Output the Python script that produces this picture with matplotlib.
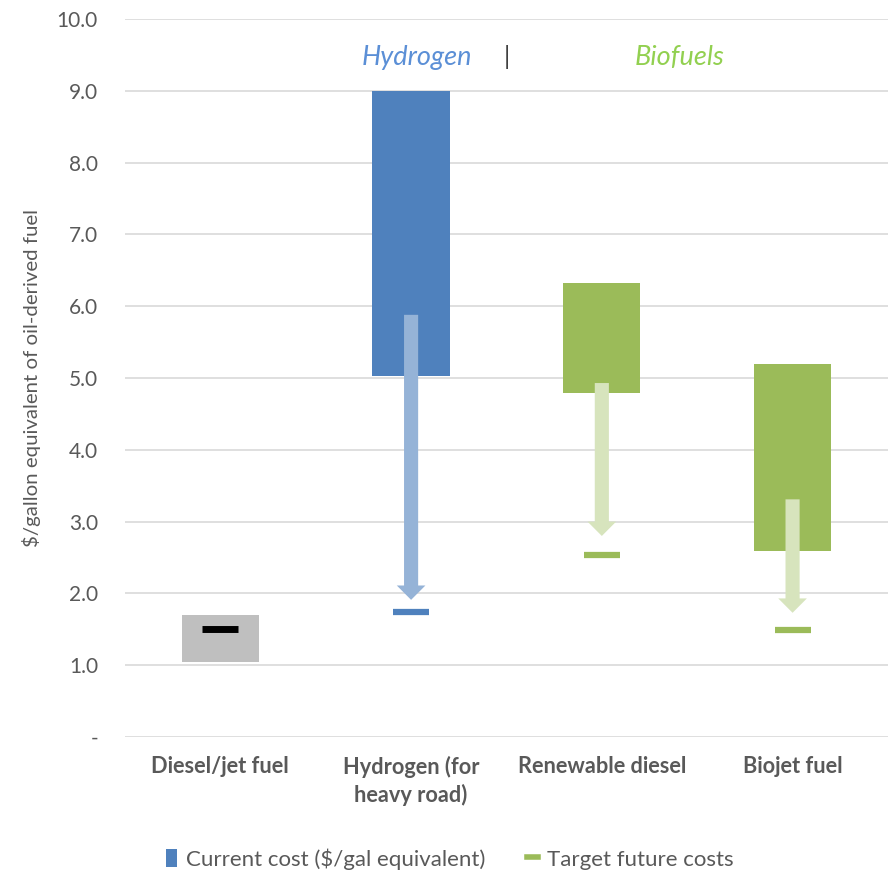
import matplotlib
matplotlib.use("Agg")
import matplotlib.pyplot as plt
from matplotlib.patches import Patch
from matplotlib.lines import Line2D

plt.rcParams['font.family'] = ['Lato', 'DejaVu Sans']

# cost ranges ($/gal equivalent) and target future costs
categories = ["Diesel/jet fuel", "Hydrogen (for\nheavy road)", "Renewable diesel", "Biojet fuel"]
cost_low = [1.04, 5.03, 4.79, 2.59]
cost_high = [1.70, 9.00, 6.32, 5.19]
arrow_start = [None, 5.88, 4.93, 3.31]
arrow_end = [None, 1.91, 2.80, 1.73]
target_cost = [1.50, 1.74, 2.53, 1.49]

bar_colors = ["#BFBFBF", "#4F81BD", "#9BBB59", "#9BBB59"]
arrow_colors = [None, "#95B3D7", "#D7E4BD", "#D7E4BD"]
target_colors = ["#000000", "#4F81BD", "#9BBB59", "#9BBB59"]

fig = plt.figure(figsize=(8.96, 8.73), dpi=100)
ax = fig.add_axes([0.1395, 0.1558, 0.8515, 0.8224])

x = list(range(len(categories)))
heights = [h - l for h, l in zip(cost_high, cost_low)]
ax.bar(x, heights, bottom=cost_low, width=0.405, color=bar_colors, zorder=2)

# downward arrows from current cost toward the target
for i in x:
    if arrow_start[i] is None:
        continue
    ax.arrow(i, arrow_start[i], 0, arrow_end[i] - arrow_start[i],
             width=0.074, head_width=0.15, head_length=0.2,
             length_includes_head=True, color=arrow_colors[i],
             linewidth=0, zorder=3)

for i in x:
    ax.plot(i, target_cost[i], linestyle='none', marker='_', markersize=26,
            markeredgewidth=5 if i == 0 else 4.5, color=target_colors[i], zorder=4)

ax.set_xlim(-0.5, len(categories) - 0.5)
ax.set_ylim(0, 10)
yticks = [0, 1, 2, 3, 4, 5, 6, 7, 8, 9, 10]
ax.set_yticks(yticks)
ax.set_yticklabels(["-"] + ["%.1f" % v for v in yticks[1:]], fontsize=15, color="#595959")
ax.set_xticks(x)
ax.set_xticklabels(categories, fontsize=15.7, fontweight="bold", color="#595959",
                   linespacing=1.3, va="top")
ax.tick_params(axis='both', length=0)
ax.tick_params(axis='y', pad=19.5)
ax.tick_params(axis='x', pad=14)
ax.grid(axis='y', color="#D9D9D9", linewidth=1.2, zorder=0)
ax.set_axisbelow(True)
for s in ax.spines.values():
    s.set_visible(False)

ax.set_ylabel("$/gallon equivalent of oil-derived fuel", fontsize=14.7, color="#595959", labelpad=11)

ax.text(1.03, 9.47, "Hydrogen", fontsize=19.5, style="italic", color="#5B8FD6", ha="center", va="center")
ax.text(1.5, 9.47, "|", fontsize=18, color="#404040", ha="center", va="center")
ax.text(2.41, 9.47, "Biofuels", fontsize=19.5, style="italic", color="#92D050", ha="center", va="center")

handles = [Patch(facecolor="#4F81BD", label="Current cost ($/gal equivalent)"),
           Line2D([], [], color="#9BBB59", linewidth=4, label="Target future costs")]
fig.legend(handles=handles, loc="center", bbox_to_anchor=(0.502, 0.016), ncol=2, frameon=False,
           fontsize=16, labelcolor="#595959", handlelength=0.5, handleheight=0.9,
           columnspacing=1.9, handletextpad=0.4)

fig.savefig("out.png", dpi=100)
